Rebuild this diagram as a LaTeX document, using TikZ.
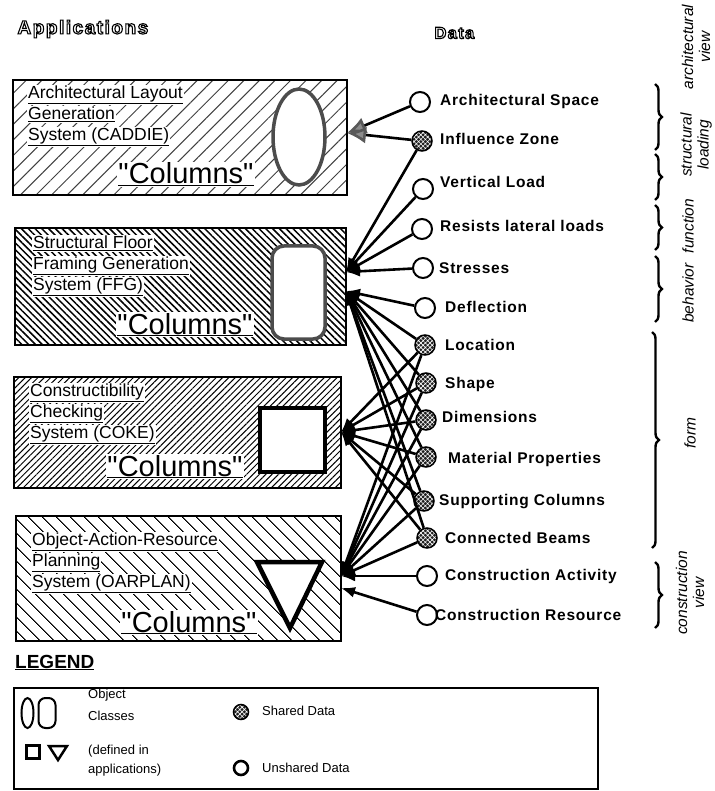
\documentclass[tikz,border=0pt]{standalone}
\usepackage{fontspec}
\setmainfont{Liberation Sans}
\newfontfamily\datafont{Liberation Sans}[LetterSpace=5]
\newfontfamily\headfont{Liberation Sans}[LetterSpace=8]
\newfontfamily\colfont{Liberation Sans}
\usetikzlibrary{arrows.meta,patterns.meta,decorations.pathreplacing}

\newcommand{\appline}[1]{{\setlength{\fboxsep}{1pt}\colorbox{white}{\underline{#1}}}}
\newcommand{\outlined}[1]{\special{pdf:code q 1 Tr 1.1 w}#1\special{pdf:code Q}}
\newcommand{\colword}{\underline{{\colfont"Columns"}}}

\tikzset{
  appbox/.style={draw, line width=2pt, anchor=north west, inner sep=0pt},
  apptext/.style={anchor=north west, align=left, inner sep=0pt, font=\fontsize{17.5}{21}\selectfont},
  colname/.style={anchor=base, fill=white, inner sep=1pt, font=\fontsize{29}{31}\selectfont},
  unshared/.style={circle, draw, line width=2pt, fill=white, minimum size=20pt, inner sep=0pt},
  shared/.style={circle, draw, line width=1.5pt, minimum size=20pt, inner sep=0pt,
    preaction={fill=black!88},
    preaction={pattern={Hatch[angle=45,distance=3.2pt,line width=0.6pt]}, pattern color=white}},
  datalabel/.style={anchor=base west, inner sep=0pt, font=\datafont\bfseries\fontsize{15.5}{17}\selectfont},
  link/.style={line width=2.6pt, -{Latex[length=14pt,width=11pt]}},
  cadlink/.style={line width=2.6pt, -{Latex[length=19pt,width=17pt,fill=black!45,color=black!65]}},
  viewbrace/.style={decorate, decoration={brace, amplitude=7pt}, line width=2.4pt},
  viewtext/.style={rotate=90, align=center, inner sep=0pt, font=\itshape\fontsize{15.5}{17}\selectfont},
  legtext/.style={anchor=west, inner sep=0pt, font=\fontsize{13}{15}\selectfont},
}

\begin{document}
\begin{tikzpicture}[x=1pt, y=-1pt]
\useasboundingbox (0,0) rectangle (714,791);
% headings
\node[anchor=west, font=\headfont\bfseries\fontsize{19}{21}\selectfont] (apphead) at (14,29) {\outlined{Applications}};
\node[anchor=west, font=\headfont\bfseries\fontsize{16.5}{18}\selectfont] (datahead) at (431,33) {\outlined{Data}};

% application boxes
\node[appbox, minimum width=334pt, minimum height=115pt, pattern={Lines[angle=45,distance=11pt,line width=1pt]}, pattern color=black!75] (caddie) at (12,80) {};
\node[appbox, minimum width=331pt, minimum height=117pt, pattern={Lines[angle=-45,distance=4.8pt,line width=1.5pt]}] (ffg) at (14,227) {};
\node[appbox, minimum width=327pt, minimum height=111pt, pattern={Lines[angle=45,distance=4.5pt,line width=1pt]}] (coke) at (13,376) {};
\node[appbox, minimum width=325pt, minimum height=125pt, pattern={Lines[angle=-45,distance=10.5pt,line width=1pt]}] (oarplan) at (15,515) {};

% object classes
\draw[line width=3.5pt, draw=black!70, fill=white] (299,137) ellipse [x radius=26pt, y radius=48pt];
\draw[line width=3.5pt, draw=black!70, fill=white, rounded corners=12pt] (272,246) rectangle (325,339);
\draw[line width=4.5pt, fill=white] (260,408) rectangle (325,472);
\draw[line width=4.5pt, fill=white, line join=miter] (257,562) -- (322,562) -- (290,628) -- cycle;

\node[apptext] (caddie-name) at (27,84.5) {\appline{Architectural Layout}\\\appline{Generation}\\\appline{System (CADDIE)}};
\node[apptext] (ffg-name) at (32,234.5) {\appline{Structural Floor}\\\appline{Framing Generation}\\\appline{System (FFG)}};
\node[apptext] (coke-name) at (29,382.5) {\appline{Constructibility}\\\appline{Checking}\\\appline{System (COKE)}};
\node[apptext] (oarplan-name) at (31,531.5) {\appline{Object-Action-Resource}\\\appline{Planning}\\\appline{System (OARPLAN)}};

\node[colname] (caddie-col) at (186,184) {\colword};
\node[colname] (ffg-col) at (185,334) {\colword};
\node[colname] (coke-col) at (175,476) {\colword};
\node[colname] (oarplan-col) at (189,632) {\colword};

% data
\node[unshared] (archspace) at (420,102) {};
\node[shared] (influence) at (422,141) {};
\node[unshared] (vload) at (423,189) {};
\node[unshared] (lateral) at (422,229) {};
\node[unshared] (stresses) at (423,268) {};
\node[unshared] (deflection) at (425,308) {};
\node[shared] (location) at (425,345) {};
\node[shared] (shape) at (426,383) {};
\node[shared] (dimensions) at (426,420) {};
\node[shared] (material) at (426,457) {};
\node[shared] (supporting) at (424,501) {};
\node[shared] (connected) at (427,538) {};
\node[unshared] (cactivity) at (427,576) {};
\node[unshared] (cresource) at (427,615) {};

\node[datalabel] (archspace-l) at (440,106) {Architectural Space};
\node[datalabel] (influence-l) at (440,145) {Influence Zone};
\node[datalabel] (vload-l) at (440,188) {Vertical Load};
\node[datalabel] (lateral-l) at (440,232) {Resists lateral loads};
\node[datalabel] (stresses-l) at (439,273) {Stresses};
\node[datalabel] (deflection-l) at (445,312) {Deflection};
\node[datalabel] (location-l) at (445,350) {Location};
\node[datalabel] (shape-l) at (445,388) {Shape};
\node[datalabel] (dimensions-l) at (442,422) {Dimensions};
\node[datalabel] (material-l) at (448,463) {Material Properties};
\node[datalabel] (supporting-l) at (439,505) {Supporting Columns};
\node[datalabel] (connected-l) at (445,543) {Connected Beams};
\node[datalabel] (cactivity-l) at (445,580) {Construction Activity};
\node[datalabel] (cresource-l) at (435,620) {Construction Resource};

% connectors
\coordinate (caddie-in) at (347,133);
\coordinate (ffg-up) at (346,272);
\coordinate (ffg-low) at (346,291);
\coordinate (coke-in) at (341,432);
\coordinate (oar-in) at (341,576);
\coordinate (oar-low) at (341,588);

\draw[cadlink] (archspace) -- (caddie-in);
\draw[cadlink] (influence) -- (caddie-in);
\foreach \d in {influence,vload,lateral,stresses}
  \draw[link] (\d) -- (ffg-up);
\foreach \d in {deflection,location,shape,dimensions,material,supporting,connected}
  \draw[link] (\d) -- (ffg-low);
\foreach \d in {location,shape,dimensions,material,supporting,connected}
  \draw[link] (\d) -- (coke-in);
\foreach \d in {location,shape,dimensions,material,supporting,connected,cactivity}
  \draw[link] (\d) -- (oar-in);
\draw[link] (cresource) -- (oar-low);

% views
\draw[viewbrace] (655,84) -- (655,150);
\draw[viewbrace] (655,154) -- (655,200);
\draw[viewbrace] (655,205) -- (655,250);
\draw[viewbrace] (655,256) -- (655,322);
\draw[viewbrace] (652,332) -- (652,548);
\draw[viewbrace] (655,562) -- (655,628);
\node[viewtext] (archview) at (696,47) {architectural\\view};
\node[viewtext] (loading) at (696,145) {structural\\loading};
\node[viewtext] (function) at (688,226) {function};
\node[viewtext] (behavior) at (688,293) {behavior};
\node[viewtext] (form) at (690,433) {form};
\node[viewtext] (consview) at (690,593) {construction\\view};

% legend
\node[anchor=base west, inner sep=0pt, font=\bfseries\fontsize{19}{21}\selectfont] (legendhead) at (15,668) {\underline{LEGEND}};
\node[draw, line width=1.5pt, minimum width=584pt, minimum height=101pt, anchor=north west] (legendbox) at (13,687) {};
\draw[line width=2pt] (27.5,713) ellipse [x radius=6pt, y radius=15pt];
\draw[line width=2pt, rounded corners=7pt] (38.5,698) rectangle (55.5,728);
\draw[line width=2.5pt] (26.5,745.5) rectangle (39.5,758.5);
\draw[line width=2.5pt, line join=miter] (49,746) -- (67,746) -- (58,760) -- cycle;
\node[legtext] (leg-obj) at (88,695) {Object};
\node[legtext] (leg-cls) at (88,716) {Classes};
\node[legtext] (leg-def) at (88,751) {(defined in};
\node[legtext] (leg-app) at (88,770) {applications)};
\node[shared, minimum size=15pt] (leg-shared) at (241,712) {};
\node[unshared, minimum size=14pt, line width=2.6pt] (leg-unshared) at (241,768) {};
\node[legtext] (leg-shared-l) at (262,711) {Shared Data};
\node[legtext] (leg-unshared-l) at (262,768) {Unshared Data};
\end{tikzpicture}
\end{document}
